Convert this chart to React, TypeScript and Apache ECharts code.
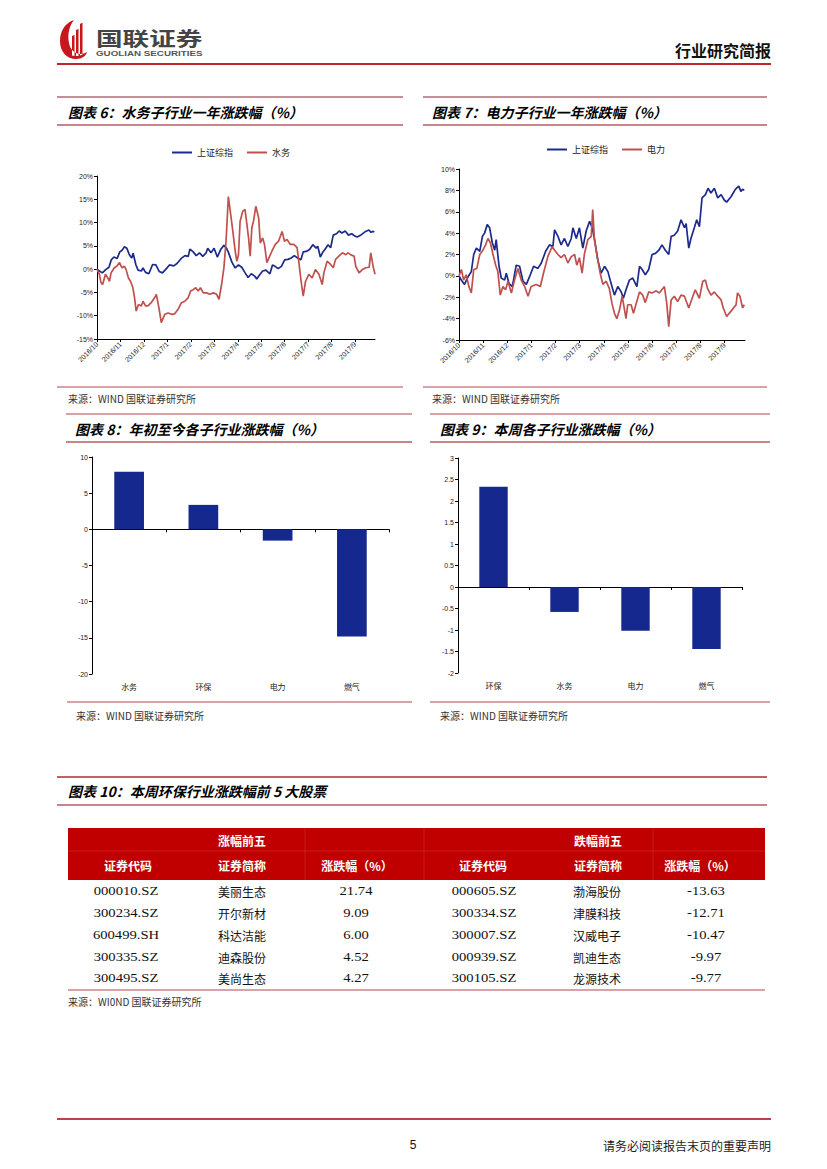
import React, { useEffect, useRef } from 'react';
import * as echarts from 'echarts';

// ---------- data ----------
const MONTH_LABELS = ['2016/10', '2016/11', '2016/12', '2017/1', '2017/2', '2017/3', '2017/4', '2017/5', '2017/6', '2017/7', '2017/8', '2017/9'];

// [months since 2016/10, % change over period]
const SH_INDEX: [number, number][] = [
  [0.0, 0], [0.1, -0.4], [0.23, -0.8], [0.37, -0.1], [0.51, 0.4], [0.61, 2.0], [0.72, 2.6], [0.86, 2.3], [0.97, 3.7],
  [1.06, 4.0], [1.17, 4.8], [1.27, 4.5], [1.38, 3.1], [1.48, 2.4], [1.54, 3.4], [1.66, 0.9], [1.75, -0.2], [1.89, -0.4],
  [1.96, 0.25], [2.07, -0.7], [2.21, -1.0], [2.37, 1.0], [2.51, 0.9], [2.65, -0.5], [2.79, -0.8], [2.92, -0.1],
  [3.09, 0.9], [3.27, 0.7], [3.41, 1.2], [3.59, 2.3], [3.75, 2.9], [3.89, 2.75], [3.96, 4.3], [4.1, 3.7], [4.23, 2.9],
  [4.37, 3.5], [4.51, 2.75], [4.65, 3.5], [4.72, 4.5], [4.86, 3.5], [4.99, 4.5], [5.13, 2.6], [5.27, 4.2], [5.41, 5.1],
  [5.52, 4.5], [5.61, 3.5], [5.75, 1.5], [5.89, 0.25], [6.03, 0.9], [6.17, 0.4], [6.3, -0.7], [6.44, -1.8], [6.58, -1.0],
  [6.72, -1.5], [6.81, -2.1], [6.92, -1.3], [7.06, -0.4], [7.2, -0.2], [7.37, -1.0], [7.48, 0.9], [7.59, 0.6], [7.72, 0.1],
  [7.86, 0.6], [8.0, 2.0], [8.14, 2.1], [8.28, 2.4], [8.41, 2.9], [8.55, 2.4], [8.69, 2.0], [8.79, 3.7], [8.92, 3.8],
  [9.06, 4.2], [9.2, 5.25], [9.34, 4.5], [9.41, 4.9], [9.52, 2.6], [9.61, 3.5], [9.75, 4.5], [9.85, 5.25], [9.96, 4.6],
  [10.07, 7.3], [10.21, 7.6], [10.32, 8.2], [10.44, 7.75], [10.58, 8.2], [10.72, 7.3], [10.86, 7.6], [10.99, 7.1],
  [11.09, 6.9], [11.27, 7.4], [11.45, 8.1], [11.59, 8.4], [11.68, 7.9], [11.75, 8.1], [11.82, 8.0],
];

const WATER: [number, number][] = [
  [0.0, 0], [0.1, -1.1], [0.17, -2.9], [0.24, -3.3], [0.36, -1.1], [0.46, -1.9], [0.53, -2.6], [0.6, -0.8], [0.74, 0.3],
  [0.84, 0.6], [0.96, 1.4], [1.06, 0.3], [1.17, 0.6], [1.24, -0.1], [1.34, -1.9], [1.43, -2.6], [1.53, -4.0], [1.6, -6.1],
  [1.67, -9.0], [1.77, -7.6], [1.89, -7.9], [1.96, -6.9], [2.07, -7.9], [2.17, -7.9], [2.31, -7.2], [2.46, -6.1],
  [2.53, -5.4], [2.64, -8.3], [2.74, -11.5], [2.89, -9.7], [3.03, -9.4], [3.17, -9.7], [3.31, -9.6], [3.46, -8.6],
  [3.6, -7.2], [3.74, -6.9], [3.89, -6.1], [3.99, -4.7], [4.1, -4.4], [4.21, -4.0], [4.31, -4.7], [4.41, -4.0],
  [4.53, -5.1], [4.67, -5.1], [4.81, -5.4], [4.96, -5.1], [5.1, -5.4], [5.2, -6.5], [5.31, -3.3], [5.41, 0.3],
  [5.5, 6.0], [5.6, 15.6], [5.7, 11.7], [5.79, 8.1], [5.89, 3.9], [5.96, 1.7], [6.03, 3.1], [6.1, 10.3], [6.21, 12.4],
  [6.31, 12.8], [6.39, 9.6], [6.46, 6.7], [6.53, 2.8], [6.6, 8.9], [6.67, 10.3], [6.77, 13.5], [6.89, 11.0], [6.96, 5.6],
  [7.06, 6.7], [7.14, 5.3], [7.24, 1.4], [7.36, 2.8], [7.46, 3.9], [7.6, 5.3], [7.74, 6.0], [7.89, 8.1], [7.99, 6.0],
  [8.1, 6.4], [8.24, 5.3], [8.39, 5.3], [8.53, 4.6], [8.6, 1.7], [8.7, -2.6], [8.79, -5.8], [8.89, -2.6], [9.03, -1.1],
  [9.17, -1.9], [9.31, -0.1], [9.46, -1.1], [9.6, -3.3], [9.67, -0.8], [9.81, 1.7], [9.96, 1.0], [10.07, 0.3],
  [10.17, 2.1], [10.31, 2.8], [10.46, 3.5], [10.6, 3.1], [10.7, 3.5], [10.84, 3.0], [10.96, 2.8], [11.03, 0.6],
  [11.17, -0.8], [11.31, -0.1], [11.46, 0.3], [11.6, 0.4], [11.67, 3.5], [11.77, 0.6], [11.85, -1.1],
];

const POWER: [number, number][] = [
  [0.0, 0], [0.1, 0.6], [0.19, -0.4], [0.3, 0.1], [0.41, -1.0], [0.51, -1.6], [0.61, 0.6], [0.74, 0.7], [0.86, 2.0],
  [0.99, 2.4], [1.1, 2.9], [1.2, 3.5], [1.3, 3.1], [1.41, 2.0], [1.52, 1.0], [1.61, 0.4], [1.71, -1.8], [1.82, -1.0],
  [1.93, -1.3], [2.03, -0.5], [2.17, -1.6], [2.3, -0.4], [2.44, 0.7], [2.58, -0.4], [2.72, -1.0], [2.86, -1.9],
  [2.99, -1.0], [3.2, -0.8], [3.37, -1.0], [3.5, 0.25], [3.68, 1.8], [3.86, 2.75], [3.96, 2.4], [4.1, 2.0], [4.23, 1.7],
  [4.37, 2.0], [4.51, 1.2], [4.65, 1.8], [4.79, 2.0], [4.88, 1.0], [4.99, 1.7], [5.1, 0.25], [5.2, 2.1], [5.34, 3.4],
  [5.48, 3.7], [5.54, 6.2], [5.61, 3.4], [5.75, 1.5], [5.85, 0.25], [5.96, -0.8], [6.1, -0.5], [6.23, -1.2],
  [6.34, -2.6], [6.44, -3.5], [6.54, -4.0], [6.65, -3.2], [6.76, -1.9], [6.86, -3.2], [6.92, -4.0], [6.99, -2.7],
  [7.13, -2.7], [7.23, -3.5], [7.34, -2.6], [7.48, -1.5], [7.61, -1.8], [7.72, -2.5], [7.86, -1.5], [8.0, -1.6],
  [8.17, -1.4], [8.3, -1.6], [8.51, -1.0], [8.61, -2.6], [8.69, -4.75], [8.79, -2.25], [8.92, -1.9], [9.06, -2.4],
  [9.2, -1.8], [9.34, -1.9], [9.52, -3.0], [9.66, -2.1], [9.79, -1.3], [9.96, -2.1], [10.1, -0.5], [10.21, -0.4],
  [10.3, -1.2], [10.44, -1.8], [10.58, -1.5], [10.72, -1.9], [10.86, -2.25], [10.95, -3.0], [11.09, -3.8],
  [11.27, -3.3], [11.48, -2.7], [11.54, -1.6], [11.64, -1.9], [11.75, -3.0], [11.82, -2.7],
];

const YTD_CATS = ['水务', '环保', '电力', '燃气'];
const YTD_VALUES = [7.96, 3.38, -1.56, -14.8];
const WEEK_CATS = ['环保', '水务', '电力', '燃气'];
const WEEK_VALUES = [2.33, -0.58, -1.02, -1.44];

const TABLE_HEAD = ['证券代码', '证券简称', '涨跌幅（%）'];
const GAIN_CODES = ['000010.SZ', '300234.SZ', '600499.SH', '300335.SZ', '300495.SZ'];
const GAIN_NAMES = ['美丽生态', '开尔新材', '科达洁能', '迪森股份', '美尚生态'];
const GAIN_PCT = [21.74, 9.09, 6.0, 4.52, 4.27];
const LOSS_CODES = ['000605.SZ', '300334.SZ', '300007.SZ', '000939.SZ', '300105.SZ'];
const LOSS_NAMES = ['渤海股份', '津膜科技', '汉威电子', '凯迪生态', '龙源技术'];
const LOSS_PCT = [-13.63, -12.71, -10.47, -9.97, -9.77];

// ---------- styles ----------
const BLUE = '#1B2A8C';
const RED = '#C0504D';
const BAR = '#14288E';
const CJK = '"Noto Sans CJK SC", sans-serif';
const SANS = '"Liberation Sans", "Noto Sans CJK SC", sans-serif';
const SERIF = '"Liberation Serif", "Noto Sans CJK SC", serif';
const DARK_LINE = '#8E1C2E';
const PINK_LINE = '#C9848A';

const LOGO_D =
  'M14 1C5 4 0 12 0 22C0 33 7 40 16 40C22 40 26 37 27 33C21 37 11 35 9 24C7 14 10 6 14 1Z' +
  'M12 17L14.5 16L14.5 37L12 36.5Z M16 11L18.5 10L18.5 37L16 37Z M20 5L22.5 3.5L22.5 35.5L20 36.5Z';
echarts.graphic.registerShape('gllogo', echarts.graphic.extendPath(LOGO_D, {}));

function T(x: number, y: number, text: string, font: string, fill = '#000', align = 'left', scaleX = 1) {
  return {
    type: 'text',
    x,
    y,
    scaleX,
    silent: true,
    style: { text, font, fill, textAlign: align, textVerticalAlign: 'middle' },
  };
}
function L(x1: number, y1: number, x2: number, y2: number, stroke: string, lineWidth = 1) {
  return { type: 'line', silent: true, shape: { x1, y1, x2, y2 }, style: { stroke, lineWidth } };
}

function buildGraphics() {
  const g: any[] = [];
  // header
  g.push({ type: 'gllogo', x: 60, y: 19, scaleX: 1, scaleY: 1, style: { fill: '#C8161D' } });
  g.push(T(96, 38, '国联证券', `bold 19px ${CJK}`, '#444', 'left', 1.4));
  g.push(T(96, 53.5, 'GUOLIAN SECURITIES', `bold 7px ${SANS}`, '#555', 'left', 1.4));
  g.push(T(771, 50, '行业研究简报', `bold 16px ${CJK}`, '#111', 'right'));
  g.push(L(57, 64, 771, 64, '#C0262C', 2));

  // chart 6 / 7 headers
  g.push(L(57, 97, 403, 97, DARK_LINE, 1));
  g.push(L(57, 125, 403, 125, PINK_LINE, 2));
  g.push(T(68, 112, '图表 6：水务子行业一年涨跌幅（%）', `italic bold 14px ${CJK}`));
  g.push(L(423, 97, 767, 97, DARK_LINE, 1));
  g.push(L(423, 125, 767, 125, PINK_LINE, 2));
  g.push(T(432, 112, '图表 7：电力子行业一年涨跌幅（%）', `italic bold 14px ${CJK}`));
  // sources 6/7
  g.push(L(57, 387, 403, 387, PINK_LINE, 1.5));
  g.push(T(68, 398, '来源：WIND 国联证券研究所', `10px ${CJK}`, '#333'));
  g.push(L(423, 387, 767, 387, PINK_LINE, 1.5));
  g.push(T(432, 398, '来源：WIND 国联证券研究所', `10px ${CJK}`, '#333'));

  // chart 8 / 9 headers
  g.push(L(66, 414, 412, 414, PINK_LINE, 1.5));
  g.push(L(66, 442, 412, 442, PINK_LINE, 2));
  g.push(T(75, 429, '图表 8：年初至今各子行业涨跌幅（%）', `italic bold 14px ${CJK}`));
  g.push(L(430, 414, 770, 414, PINK_LINE, 1.5));
  g.push(L(430, 442, 770, 442, PINK_LINE, 2));
  g.push(T(440, 429, '图表 9：本周各子行业涨跌幅（%）', `italic bold 14px ${CJK}`));
  // sources 8/9
  g.push(L(67, 702, 412, 702, PINK_LINE, 1.5));
  g.push(T(76, 715, '来源：WIND 国联证券研究所', `10px ${CJK}`, '#333'));
  g.push(L(430, 702, 770, 702, PINK_LINE, 1.5));
  g.push(T(440, 715, '来源：WIND 国联证券研究所', `10px ${CJK}`, '#333'));

  // table 10
  g.push(L(57, 777, 767, 777, '#C4606A', 2));
  g.push(L(57, 805, 767, 805, PINK_LINE, 2));
  g.push(T(68, 791, '图表 10：本周环保行业涨跌幅前 5 大股票', `italic bold 14px ${CJK}`));

  g.push({ type: 'rect', silent: true, shape: { x: 68, y: 828, width: 697, height: 52 }, style: { fill: '#C00000' } });
  g.push(L(68, 851, 765, 851, '#CC3030', 0.6));
  [305, 424, 653].forEach((x) => g.push(L(x, 828, x, 880, '#CC3030', 0.6)));

  const colL = [128, 242, 357];
  const colR = [483, 598, 700];
  const hf = `bold 12px ${CJK}`;
  g.push(T(242, 840, '涨幅前五', hf, '#fff', 'center'));
  g.push(T(598, 840, '跌幅前五', hf, '#fff', 'center'));
  TABLE_HEAD.forEach((h, i) => {
    g.push(T(colL[i], 865, h, hf, '#fff', 'center'));
    g.push(T(colR[i], 865, h, hf, '#fff', 'center'));
  });
  const rowY = [891, 913, 935, 957, 978];
  const df = `12px ${SERIF}`;
  const dataL = [126, 242, 356];
  const dataR = [484, 597, 706];
  rowY.forEach((y, r) => {
    g.push(T(dataL[0], y, GAIN_CODES[r], df, '#111', 'center', 1.22));
    g.push(T(dataL[1], y, GAIN_NAMES[r], `12px ${CJK}`, '#111', 'center'));
    g.push(T(dataL[2], y, GAIN_PCT[r].toFixed(2), df, '#111', 'center', 1.22));
    g.push(T(dataR[0], y, LOSS_CODES[r], df, '#111', 'center', 1.22));
    g.push(T(dataR[1], y, LOSS_NAMES[r], `12px ${CJK}`, '#111', 'center'));
    g.push(T(dataR[2], y, LOSS_PCT[r].toFixed(2), df, '#111', 'center', 1.22));
  });
  g.push(L(68, 990, 765, 990, PINK_LINE, 1.5));
  g.push(T(68, 1001, '来源：WI0ND 国联证券研究所', `10px ${CJK}`, '#333'));

  // footer
  g.push(L(57, 1119, 771, 1119, '#C0404A', 2));
  g.push(T(413, 1145, '5', `12px ${SANS}`, '#111', 'center'));
  g.push(T(771, 1145, '请务必阅读报告末页的重要声明', `12px ${CJK}`, '#222', 'right'));
  return g;
}

function monthLabel(v: number) {
  const r = Math.round(v);
  if (Math.abs(v - r) > 1e-6) return '';
  return MONTH_LABELS[r] ?? '';
}

function lineX(gridIndex: number) {
  return {
    type: 'value',
    gridIndex,
    min: 0,
    max: 11.85,
    interval: 1,
    splitLine: { show: false },
    axisLine: { onZero: false, lineStyle: { color: '#000', width: 1 } },
    axisTick: { show: true, length: 3, lineStyle: { color: '#000' } },
    axisLabel: { rotate: 45, fontSize: 7, color: '#222', margin: 4, fontFamily: SANS, showMaxLabel: false, formatter: monthLabel },
  };
}
function lineY(gridIndex: number, min: number, max: number, interval: number) {
  return {
    type: 'value',
    gridIndex,
    min,
    max,
    interval,
    splitLine: { show: false },
    axisLine: { show: true, onZero: false, lineStyle: { color: '#000', width: 1 } },
    axisTick: { show: true, length: 3, lineStyle: { color: '#000' } },
    axisLabel: { fontSize: 7, color: '#222', margin: 4, fontFamily: SANS, formatter: '{value}%' },
  };
}
function barX(gridIndex: number, data: string[]) {
  return {
    type: 'category',
    gridIndex,
    data,
    axisLine: { onZero: true, lineStyle: { color: '#000', width: 1 } },
    axisTick: { show: true, length: 3, lineStyle: { color: '#000' } },
    axisLabel: { fontSize: 8, color: '#222', margin: 8, fontFamily: CJK },
  };
}
function barY(gridIndex: number, min: number, max: number, interval: number) {
  return {
    type: 'value',
    gridIndex,
    min,
    max,
    interval,
    splitLine: { show: false },
    axisLine: { show: true, lineStyle: { color: '#000', width: 1 } },
    axisTick: { show: true, length: 3, lineStyle: { color: '#000' } },
    axisLabel: { fontSize: 7, color: '#222', margin: 4, fontFamily: SANS },
  };
}

function lineSeries(name: string, data: [number, number][], color: string, idx: number) {
  return {
    type: 'line',
    name,
    xAxisIndex: idx,
    yAxisIndex: idx,
    data,
    showSymbol: false,
    symbol: 'none',
    lineStyle: { width: 1.7, color },
    itemStyle: { color },
  };
}

export default function App() {
  const ref = useRef<HTMLDivElement>(null);
  useEffect(() => {
    if (!ref.current) return;
    const chart = echarts.init(ref.current, undefined, { renderer: 'svg' });
    const legendBase = {
      icon: 'rect',
      itemWidth: 20,
      itemHeight: 2,
      itemGap: 14,
      padding: 0,
      textStyle: { fontSize: 9, color: '#222', fontFamily: CJK },
    };
    chart.setOption({
      animation: false,
      backgroundColor: '#fff',
      legend: [
        { ...legendBase, data: ['上证综指', '水务'], left: 172, top: 148 },
        { ...legendBase, data: ['上证综指', '电力'], left: 547, top: 145 },
      ],
      grid: [
        { left: 97, top: 176, width: 278, height: 163 },
        { left: 459, top: 169, width: 286, height: 171 },
        { left: 92, top: 457, width: 297, height: 217 },
        { left: 458, top: 458, width: 284, height: 215 },
      ],
      xAxis: [lineX(0), lineX(1), barX(2, YTD_CATS), barX(3, WEEK_CATS)],
      yAxis: [lineY(0, -15, 20, 5), lineY(1, -6, 10, 2), barY(2, -20, 10, 5), barY(3, -2, 3, 0.5)],
      series: [
        lineSeries('上证综指', SH_INDEX, BLUE, 0),
        lineSeries('水务', WATER, RED, 0),
        lineSeries('上证综指', SH_INDEX, BLUE, 1),
        lineSeries('电力', POWER, RED, 1),
        { type: 'bar', xAxisIndex: 2, yAxisIndex: 2, data: YTD_VALUES, barWidth: '40%', itemStyle: { color: BAR } },
        { type: 'bar', xAxisIndex: 3, yAxisIndex: 3, data: WEEK_VALUES, barWidth: '40%', itemStyle: { color: BAR } },
      ],
      graphic: { elements: buildGraphics() },
    });
    return () => chart.dispose();
  }, []);
  return <div ref={ref} style={{ position: 'absolute', left: 0, top: 0, width: 827, height: 1169 }} />;
}
